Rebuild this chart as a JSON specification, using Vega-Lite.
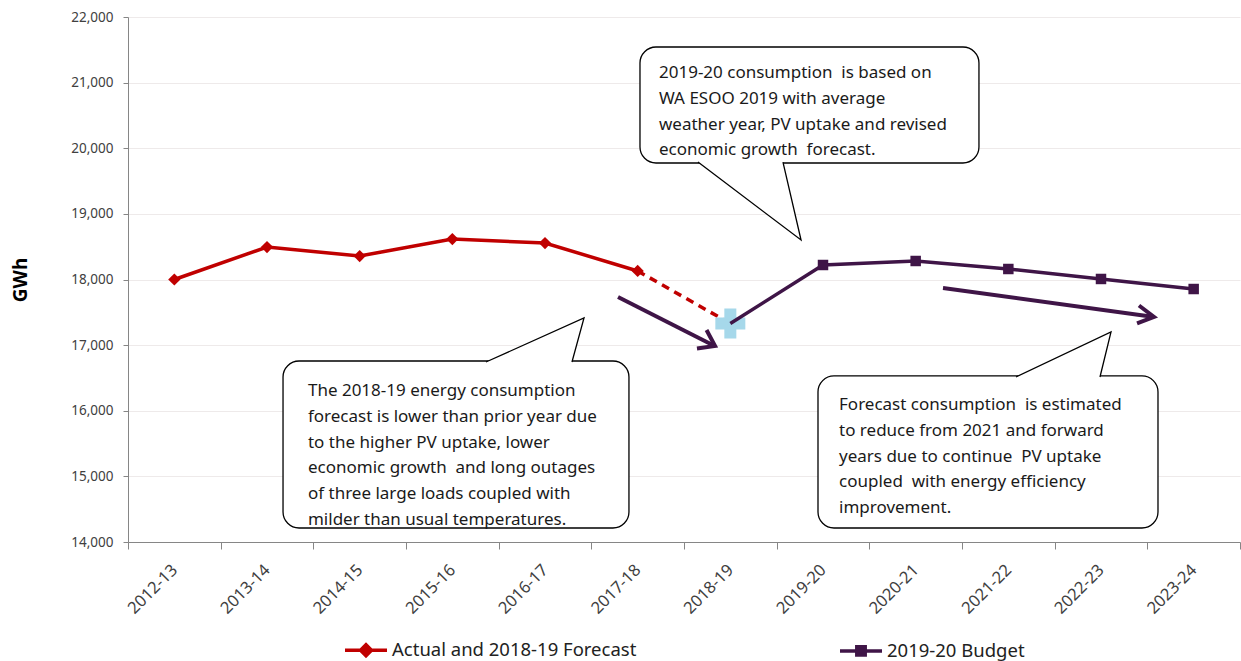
{
  "$schema": "https://vega.github.io/schema/vega-lite/v6.json",
  "width": 1112,
  "height": 525,
  "autosize": "none",
  "padding": {"left": 128, "top": 17, "right": 1, "bottom": 119},
  "background": "white",
  "config": {
    "view": {"stroke": null},
    "font": "Noto Sans",
    "axisY": {
      "domainColor": "#868686", "tickColor": "#868686", "tickSize": 5,
      "labelFontSize": 13.5, "labelColor": "#404040", "labelPadding": 10,
      "grid": true, "gridColor": "#eeeaea", "labelExpr": "format(datum.value, ',')",
      "titleFontSize": 19, "titleFontWeight": "bold", "titleColor": "#000000", "titlePadding": 40
    },
    "axisX": {
      "domainColor": "#868686", "tickColor": "#868686", "tickSize": 7,
      "labelAngle": -45, "labelAlign": "right", "labelBaseline": "middle",
      "labelFontSize": 16.5, "labelColor": "#404040", "labelPadding": 18, "grid": false
    }
  },
  "datasets": {
    "actual": [
      {"period": "2012-13", "value": 18000, "series": "Actual and 2018-19 Forecast"},
      {"period": "2013-14", "value": 18495, "series": "Actual and 2018-19 Forecast"},
      {"period": "2014-15", "value": 18358, "series": "Actual and 2018-19 Forecast"},
      {"period": "2015-16", "value": 18617, "series": "Actual and 2018-19 Forecast"},
      {"period": "2016-17", "value": 18556, "series": "Actual and 2018-19 Forecast"},
      {"period": "2017-18", "value": 18130, "series": "Actual and 2018-19 Forecast"}
    ],
    "forecast": [
      {"period": "2017-18", "value": 18130},
      {"period": "2018-19", "value": 17330}
    ],
    "budget": [
      {"period": "2018-19", "value": 17330, "series": "2019-20 Budget"},
      {"period": "2019-20", "value": 18221, "series": "2019-20 Budget"},
      {"period": "2020-21", "value": 18282, "series": "2019-20 Budget"},
      {"period": "2021-22", "value": 18160, "series": "2019-20 Budget"},
      {"period": "2022-23", "value": 18008, "series": "2019-20 Budget"},
      {"period": "2023-24", "value": 17855, "series": "2019-20 Budget"}
    ],
    "cross": [
      {"period": "2018-19", "value": 17330}
    ],
    "boxes": [
      {"box": "top", "ax": 5.525, "ax2": 9.183, "value": 21543, "value2": 19775},
      {"box": "left", "ax": 1.673, "ax2": 5.406, "value": 16758, "value2": 14213},
      {"box": "right", "ax": 7.446, "ax2": 11.115, "value": 16530, "value2": 14213}
    ],
    "tails": [
      {"box": "top", "ord": 1, "ax": 6.151, "value": 19790},
      {"box": "top", "ord": 2, "ax": 7.263, "value": 18602},
      {"box": "top", "ord": 3, "ax": 7.068, "value": 19790},
      {"box": "left", "ord": 1, "ax": 3.863, "value": 16743},
      {"box": "left", "ord": 2, "ax": 4.921, "value": 17413},
      {"box": "left", "ord": 3, "ax": 4.791, "value": 16743},
      {"box": "right", "ord": 1, "ax": 9.583, "value": 16514},
      {"box": "right", "ord": 2, "ax": 10.608, "value": 17200},
      {"box": "right", "ord": 3, "ax": 10.489, "value": 16514}
    ],
    "notes": [
      {"box": "top", "ax": 5.730, "value": 21341, "text": "2019-20 consumption \u00a0is based on\nWA ESOO 2019 with average\nweather year, PV uptake and revised\neconomic growth \u00a0forecast."},
      {"box": "left", "ax": 1.942, "value": 16496, "text": "The 2018-19 energy consumption\nforecast is lower than prior year due\nto the higher PV uptake, lower\neconomic growth \u00a0and long outages\nof three large loads coupled with\nmilder than usual temperatures."},
      {"box": "right", "ax": 7.673, "value": 16283, "text": "Forecast consumption \u00a0is estimated\nto reduce from 2021 and forward\nyears due to continue \u00a0PV uptake\ncoupled \u00a0with energy efficiency\nimprovement."}
    ],
    "arrows": [
      {"part": "a1-shaft", "ord": 1, "ax": 5.288, "value": 17733},
      {"part": "a1-shaft", "ord": 2, "ax": 6.320, "value": 16995},
      {"part": "a1-head", "ord": 1, "ax": 6.243, "value": 17230},
      {"part": "a1-head", "ord": 2, "ax": 6.335, "value": 16987},
      {"part": "a1-head", "ord": 3, "ax": 6.140, "value": 16947},
      {"part": "a2-shaft", "ord": 1, "ax": 8.795, "value": 17870},
      {"part": "a2-shaft", "ord": 2, "ax": 11.055, "value": 17432},
      {"part": "a2-head", "ord": 1, "ax": 10.910, "value": 17604},
      {"part": "a2-head", "ord": 2, "ax": 11.072, "value": 17429},
      {"part": "a2-head", "ord": 3, "ax": 10.889, "value": 17330}
    ]
  },
  "resolve": {"scale": {"x": "independent"}},
  "layer": [
    {
      "encoding": {
        "x": {
          "field": "period", "type": "nominal",
          "scale": {"type": "band", "paddingInner": 0, "paddingOuter": 0,
            "domain": ["2012-13","2013-14","2014-15","2015-16","2016-17","2017-18","2018-19","2019-20","2020-21","2021-22","2022-23","2023-24"]},
          "axis": {"title": null, "tickBand": "extent"}
        },
        "y": {
          "field": "value", "type": "quantitative", "title": "GWh",
          "scale": {"domain": [14000, 22000], "nice": false, "zero": false},
          "axis": {"values": [14000,15000,16000,17000,18000,19000,20000,21000,22000], "labelExpr": "format(datum.value, ',')"}
        }
      },
      "layer": [
        {
          "data": {"name": "actual"},
          "mark": {"type": "line", "strokeWidth": 3.5},
          "encoding": {
            "color": {
              "field": "series", "type": "nominal", "title": null,
              "scale": {"domain": ["Actual and 2018-19 Forecast", "2019-20 Budget"], "range": ["#c00000", "#3f1547"]},
              "legend": {
                "orient": "none", "legendX": 215, "legendY": 610, "direction": "horizontal",
                "labelFontSize": 18.5, "labelColor": "#222222", "labelFont": "Noto Sans", "labelLimit": 600,
                "symbolSize": 1764, "symbolStrokeWidth": 3.5, "columnPadding": 196, "labelOffset": 3,
                "encode": {
                  "symbols": {
                    "update": {
                      "shape": {"signal": "datum.value == 'Actual and 2018-19 Forecast' ? 'M-1,0L1,0M0,-0.26L0.26,0L0,0.26L-0.26,0Z' : 'M-1,0L1,0M-0.2,-0.2L0.2,-0.2L0.2,0.2L-0.2,0.2Z'"},
                      "fill": {"signal": "datum.value == 'Actual and 2018-19 Forecast' ? '#c00000' : '#3f1547'"},
                      "stroke": {"signal": "datum.value == 'Actual and 2018-19 Forecast' ? '#c00000' : '#3f1547'"},
                      "strokeWidth": {"value": 3.5},
                      "opacity": {"value": 1}
                    }
                  }
                }
              }
            }
          }
        },
        {
          "data": {"name": "forecast"},
          "mark": {"type": "line", "strokeWidth": 3.5, "color": "#c00000", "strokeDash": [8, 6]},
          "encoding": {}
        },
        {
          "data": {"name": "actual"},
          "mark": {"type": "point", "shape": "diamond", "size": 150, "filled": true, "color": "#c00000", "opacity": 1},
          "encoding": {}
        },
        {
          "data": {"name": "cross"},
          "mark": {"type": "point", "shape": "cross", "size": 900, "filled": true, "color": "#a6d8ea", "opacity": 1},
          "encoding": {}
        },
        {
          "data": {"name": "budget"},
          "mark": {"type": "line", "strokeWidth": 3.5},
          "encoding": {
            "color": {"field": "series", "type": "nominal", "title": null,
              "scale": {"domain": ["Actual and 2018-19 Forecast", "2019-20 Budget"], "range": ["#c00000", "#3f1547"]}}
          }
        },
        {
          "data": {"name": "budget"},
          "transform": [{"filter": "datum.period != '2018-19'"}],
          "mark": {"type": "point", "shape": "square", "size": 110, "filled": true, "color": "#3f1547", "opacity": 1},
          "encoding": {}
        }
      ]
    },
    {
      "encoding": {
        "x": {"field": "ax", "type": "quantitative", "scale": {"domain": [0, 12], "nice": false, "zero": false}, "axis": null},
        "y": {"field": "value", "type": "quantitative", "title": "GWh",
          "scale": {"domain": [14000, 22000], "nice": false, "zero": false},
          "axis": {"values": [14000,15000,16000,17000,18000,19000,20000,21000,22000], "labelExpr": "format(datum.value, ',')"}}
      },
      "layer": [
        {
          "data": {"name": "boxes"},
          "mark": {"type": "rect", "fill": "#ffffff", "stroke": "#000000", "strokeWidth": 1.3, "cornerRadius": 16},
          "encoding": {
            "x2": {"field": "ax2"},
            "y2": {"field": "value2"}
          }
        },
        {
          "data": {"name": "tails"},
          "mark": {"type": "line", "fill": "#ffffff", "stroke": "#000000", "strokeWidth": 1.3, "strokeJoin": "miter"},
          "encoding": {
            "detail": {"field": "box", "type": "nominal"},
            "order": {"field": "ord", "type": "quantitative"}
          }
        },
        {
          "data": {"name": "notes"},
          "mark": {"type": "text", "align": "left", "baseline": "line-top", "lineBreak": "\n", "lineHeight": 25.7, "fontSize": 17, "font": "Noto Sans", "color": "#1a1a1a"},
          "encoding": {
            "text": {"field": "text", "type": "nominal"}
          }
        },
        {
          "data": {"name": "arrows"},
          "mark": {"type": "line", "color": "#3f1547", "strokeWidth": 4, "strokeJoin": "miter", "strokeCap": "butt"},
          "encoding": {
            "detail": {"field": "part", "type": "nominal"},
            "order": {"field": "ord", "type": "quantitative"}
          }
        }
      ]
    }
  ]
}
